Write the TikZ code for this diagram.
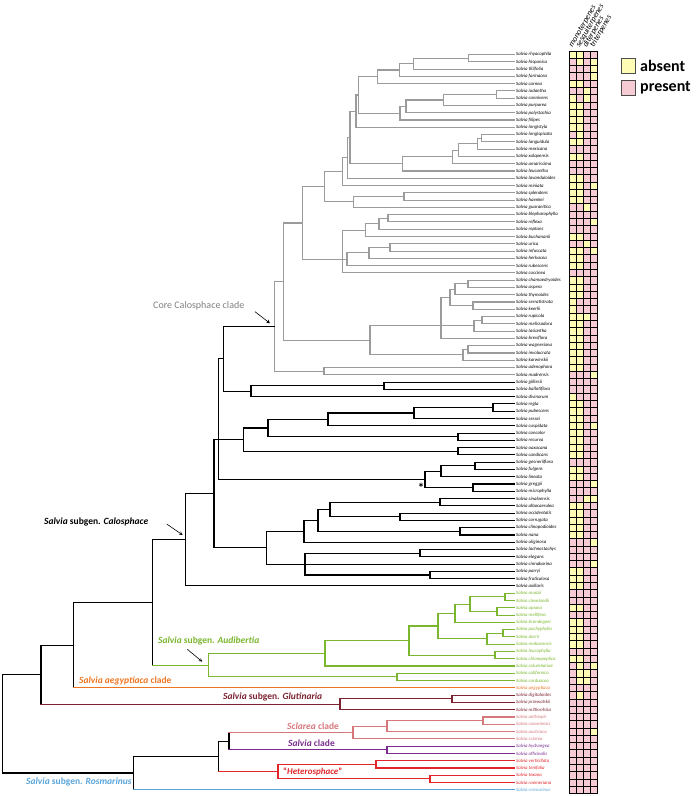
\documentclass[tikz,border=0pt]{standalone}
\usepackage{fontspec}
\setmainfont{Carlito}
\usetikzlibrary{arrows}

\definecolor{cgrey}{HTML}{9B9B9B}
\definecolor{cgreen}{HTML}{7AB62E}
\definecolor{corange}{HTML}{EE7522}
\definecolor{cmaroon}{HTML}{7C2230}
\definecolor{cpink}{HTML}{D6777C}
\definecolor{cpurple}{HTML}{7A2D8F}
\definecolor{cred}{HTML}{E3262A}
\definecolor{cblue}{HTML}{5AA5DA}
\definecolor{state0}{HTML}{FFFCB5}
\definecolor{state1}{HTML}{F6CBD4}

\tikzstyle{branch} = [line width=1.1pt, line cap=rect]
\tikzstyle{taxon} = [anchor=west, inner xsep=1.5pt, inner ysep=0pt, font=\fontsize{4.8}{5}\selectfont\itshape]
\tikzstyle{cell} = [draw=black, line width=0.5pt]
\tikzstyle{cladename} = [anchor=west, inner sep=0pt, font=\fontsize{9.5}{11}\selectfont\bfseries]
\tikzstyle{header} = [anchor=base west, rotate=60, inner sep=0pt, font=\fontsize{8}{9}\selectfont\itshape]
\tikzstyle{legendtext} = [anchor=west, inner sep=0pt, font=\fontsize{16}{18}\selectfont\bfseries]
\tikzstyle{arrow} = [line width=0.6pt,->,>=stealth]

\newcommand{\rowy}[1]{54.5+(#1-1)*7.28}

\begin{document}
\begin{tikzpicture}[x=1pt,y=-1pt]
\useasboundingbox (0,0) rectangle (699,796);

% taxa and terpene matrix (0 = absent, 1 = present)
\foreach \i/\nm/\cl/\ma/\mb/\mc/\md in {
 1/rhyacophila/black/0/0/1/1, 2/hispanica/black/1/0/1/0, 3/tiliifolia/black/1/1/1/0,
 4/farinacea/black/1/1/1/0, 5/carnea/black/0/0/1/1, 6/iodantha/black/1/1/0/1,
 7/connivens/black/0/1/0/1, 8/purpurea/black/0/0/1/1, 9/polystachia/black/0/0/1/1,
 10/filipes/black/0/0/1/1, 11/longistyla/black/0/0/1/1, 12/longispicata/black/1/0/1/1,
 13/languidula/black/0/0/1/1, 14/mexicana/black/1/1/1/1, 15/xalapensis/black/0/0/1/1,
 16/amarissima/black/1/1/1/1, 17/leucantha/black/1/1/1/1, 18/lavanduloides/black/0/0/1/1,
 19/miniata/black/0/0/1/0, 20/splendens/black/0/0/1/1, 21/haenkei/black/0/0/1/1,
 22/guaranitica/black/1/1/0/1, 23/blepharophylla/black/1/1/1/1, 24/reflexa/black/1/1/1/0,
 25/reptans/black/1/1/1/1, 26/buchananii/black/0/0/1/1, 27/urica/black/1/1/0/1,
 28/infuscata/black/0/0/1/0, 29/herbacea/black/0/0/1/1, 30/rubescens/black/0/0/1/1,
 31/coccinea/black/1/1/1/1, 32/chamaedryoides/black/0/0/1/1, 33/aspera/black/0/0/1/1,
 34/thymoides/black/0/0/1/1, 35/serratistrata/black/0/1/1/1, 36/keerlii/black/0/1/1/1,
 37/rupicola/black/0/0/0/1, 38/melissodora/black/0/0/1/1, 39/lasiantha/black/0/0/1/1,
 40/breviflora/black/0/0/1/1, 41/wagneriana/black/0/0/1/1, 42/involucrata/black/0/0/1/1,
 43/karwinskii/black/0/0/1/1, 44/adenophora/black/0/0/1/1, 45/madrensis/black/1/1/1/0,
 46/gilliesii/black/1/1/1/1, 47/ballotiflora/black/1/1/1/1, 48/divinorum/black/0/1/1/1,
 49/regla/black/0/0/1/1, 50/pubescens/black/0/0/1/1, 51/sessei/black/0/0/1/1,
 52/cuspidata/black/0/0/1/0, 53/concolor/black/0/0/1/1, 54/recurva/black/0/0/1/1,
 55/oaxacana/black/0/0/1/1, 56/candicans/black/0/0/1/1, 57/gesneriiflora/black/1/1/1/1,
 58/fulgens/black/0/0/1/1, 59/lineata/black/0/0/1/1, 60/greggii/black/1/1/1/0,
 61/microphylla/black/1/1/1/1, 62/sinaloensis/black/1/1/0/0, 63/albocaerulea/black/0/0/1/1,
 64/occidentalis/black/0/0/1/1, 65/corrugata/black/0/0/1/1, 66/clinopodioides/black/0/0/1/1,
 67/nana/black/0/0/1/1, 68/uliginosa/black/1/1/1/0, 69/lachnostachys/black/1/1/1/1,
 70/elegans/black/1/1/1/1, 71/cinnabarina/black/1/1/1/0, 72/parryi/black/0/0/1/1,
 73/fruticulosa/black/0/0/1/1, 74/axillaris/black/0/0/1/1, 75/munzii/cgreen/1/1/1/1,
 76/clevelandii/cgreen/1/1/1/1, 77/apiana/cgreen/0/0/1/1, 78/mellifera/cgreen/1/1/1/1,
 79/brandegeei/cgreen/0/0/1/1, 80/pachyphylla/cgreen/0/0/1/1, 81/dorrii/cgreen/0/0/1/1,
 82/mohavensis/cgreen/0/0/1/1, 83/leucophylla/cgreen/1/1/1/1, 84/chionopeplica/cgreen/0/0/1/1,
 85/columbariae/cgreen/1/0/1/0, 86/californica/cgreen/1/0/0/1, 87/carduacea/cgreen/1/0/0/1,
 88/aegyptiaca/corange/1/1/1/1, 89/digitaloides/cmaroon/1/0/1/1, 90/przewalskii/cmaroon/1/1/1/1,
 91/miltiorrhiza/cmaroon/1/1/1/1, 92/aethiopis/cpink/1/1/1/1, 93/canariensis/cpink/1/1/1/1,
 94/austriaca/cpink/1/1/1/0, 95/sclarea/cpink/1/1/1/1, 96/hydrangea/cpurple/1/1/1/1,
 97/officinalis/cpurple/1/1/1/1, 98/verticillata/cred/1/1/1/1, 99/tenifolia/cred/1/1/1/1,
 100/texana/cred/1/1/1/1, 101/roemeriana/cred/1/1/1/1, 102/rosmarinus/cblue/1/1/1/1}{
  \node[taxon, text=\cl] (t\i) at (514.5,{\rowy{\i}}) {Salvia \nm};
  \draw[cell, fill=state\ma] (569,{\rowy{\i}-3.64}) rectangle ++(7.1,7.28);
  \draw[cell, fill=state\mb] (576.1,{\rowy{\i}-3.64}) rectangle ++(7.1,7.28);
  \draw[cell, fill=state\mc] (583.2,{\rowy{\i}-3.64}) rectangle ++(7.1,7.28);
  \draw[cell, fill=state\md] (590.3,{\rowy{\i}-3.64}) rectangle ++(7.1,7.28);
}

% column headers
\node[header] (mono) at (572.5,48) {monoterpenes};
\node[header] (sesq) at (579.6,48) {sesquiterpenes};
\node[header] (dite) at (586.7,48) {diterpenes};
\node[header] (trit) at (593.8,48) {triterpenes};

% legend
\draw[cell, draw=black!70, fill=state0] (621,58) rectangle (635,73);
\node[legendtext] (absent) at (640,65.5) {absent};
\draw[cell, draw=black!70, fill=state1] (621,80) rectangle (635,95);
\node[legendtext] (present) at (640,87.5) {present};

% internal nodes (x, row)
\foreach \n/\x/\r in {v1/468.3/1.5, v2/413.3/2.25, v3/399.3/3.125, v4/377.7/4.06,
  v5/496.7/6.5, v6/443.3/7.25, v7/406/8.125, v8/400/9.06, v9/358.3/6.56, v10/356/8.78,
  v11/481.7/12.5, v12/477.7/13.25, v13/458.3/14.125, v14/452.7/15.06, v15/402.3/16.03,
  v16/350/12.4, v17/347.7/15.2, v18/342.3/17.1, v19/404/20.5, v20/353.3/21.25,
  vu/324.3/19.18,
  ga/388/23.5, gb/379/24.25, gc/365.7/25.125, gd/390/27.5, ge/369/28.25, gf/347/29.125,
  gg/342.7/29.125, gh/302.7/24.15, a1/468/32.5, a2/455/33.25, a3/473/35.5, a4/450/34.375,
  a5/482/37.5, a6/474/38.25, a7/441/38.25, a8/468/41.5, a9/463/42.25, a10/370/40.25,
  gi/283.3/32.2, gj/324/44.5, core/274.3/38.35,
  bgb/384/46.5, bgd/251/47.25, b1/223.3/42.8, ca/493/49.5, cb/414/50.25, cc/328/51.125,
  cd/458/53.5, ce/268/52.31, cf/458/55.5, cg/243.3/53.9, sa/475/57.5, sb/441/58.25,
  sc/473/60.5, sd/425/59.375, b2/218.3/53.9, d1/440/62.5, d2/400/64.5, d3/330/63.5,
  d4/460/66.5, d5/318/65, d6/304/66.5, e1/420/69.5, e2/430/72.5, e3/305/71,
  pp/266.7/68.75, nn/214/61.33, calo/185.3/67.66,
  h3/505/75.5, h4/497/77.5, h5/470/76.5, h6/455/77.75, h1/503/80.5, h2/487/81.25,
  h7/438/79.5, h8/495/83.5, h9/409/81.5, h10/325/83.25, h11/397/86.5, aud/208.3/84.875,
  R3/152.3/76.27, R2/73.3/82.13, k1/452/89.5, k2/340/90.25, R1/41/86.19,
  m1/483/92.5, m2/387/93.25, m3/353/94.125, m4/387/96.5, m5/229/95.31,
  rv/376/98.5, r1/430/100.5, r3/278/99.5, j1/218.3/97.4, j2/133.3/99.7, root/2.7/92.95}
  \coordinate (\n) at (\x,{\rowy{\r}});

% Core Calosphace clade
\foreach \p/\q in {v1/t1.west, v1/t2.west, v2/v1, v2/t3.west, v3/v2, v3/t4.west,
  v4/v3, v4/t5.west, v5/t6.west, v5/t7.west, v6/v5, v6/t8.west, v7/v6, v7/t9.west,
  v8/v7, v8/t10.west, v9/v4, v9/v8, v10/v9, v10/t11.west, v11/t12.west, v11/t13.west,
  v12/v11, v12/t14.west, v13/v12, v13/t15.west, v14/v13, v14/t16.west, v15/v14,
  v15/t17.west, v16/v10, v16/v15, v17/v16, v17/t18.west, v18/v17, v18/t19.west,
  v19/t20.west, v19/t21.west, v20/v19, v20/t22.west, vu/v18, vu/v20,
  ga/t23.west, ga/t24.west, gb/ga, gb/t25.west, gc/gb, gc/t26.west, gd/t27.west,
  gd/t28.west, ge/gd, ge/t29.west, gf/ge, gf/t30.west, gg/gc, gg/gf, gg/t31.west,
  gh/vu, gh/gg, a1/t32.west, a1/t33.west, a2/a1, a2/t34.west, a3/t35.west, a3/t36.west,
  a4/a2, a4/a3, a5/t37.west, a5/t38.west, a6/a5, a6/t39.west, a7/a4, a7/a6, a7/t40.west,
  a8/t41.west, a8/t42.west, a9/a8, a9/t43.west, a10/a7, a10/a9, gi/gh, gi/a10,
  gj/t44.west, gj/t45.west, core/gi, core/gj}
  \draw[branch, cgrey] (\p) |- (\q);

% rest of Calosphace and backbone
\foreach \p/\q in {bgb/t46.west, bgb/t47.west, bgd/bgb, bgd/t48.west, b1/core, b1/bgd,
  ca/t49.west, ca/t50.west, cb/ca, cb/t51.west, cc/cb, cc/t52.west, cd/t53.west,
  cd/t54.west, ce/cc, ce/cd, cf/t55.west, cf/t56.west, cg/ce, cg/cf,
  sa/t57.west, sa/t58.west, sb/sa, sb/t59.west, sc/t60.west, sc/t61.west, sd/sb, sd/sc,
  b2/b1, b2/cg, b2/sd, d1/t62.west, d1/t63.west, d2/t64.west, d2/t65.west, d3/d1,
  d3/d2, d4/t66.west, d4/t67.west, d5/d3, d5/d4, d6/d5, d6/t68.west, e1/t69.west,
  e1/t70.west, e2/t72.west, e2/t73.west, e3/e1, e3/t71.west, e3/e2, pp/d6, pp/e3,
  nn/b2, nn/pp, calo/nn, calo/t74.west, R3/calo, R2/R3, R1/R2, root/R1, root/j2,
  j1/m5, j2/j1}
  \draw[branch] (\p) |- (\q);

% Audibertia
\foreach \p/\q in {h3/t75.west, h3/t76.west, h4/t77.west, h4/t78.west, h5/h3, h5/h4,
  h6/h5, h6/t79.west, h1/t80.west, h1/t81.west, h2/h1, h2/t82.west, h7/h6, h7/h2,
  h8/t83.west, h8/t84.west, h9/h7, h9/h8, h10/h9, h10/t85.west, h11/t86.west,
  h11/t87.west, aud/h10, aud/h11}
  \draw[branch, cgreen] (\p) |- (\q);

\foreach \p/\q in {k1/t89.west, k1/t90.west, k2/k1, k2/t91.west}
  \draw[branch, cmaroon] (\p) |- (\q);
\foreach \p/\q in {m1/t92.west, m1/t93.west, m2/m1, m2/t94.west, m3/m2, m3/t95.west}
  \draw[branch, cpink] (\p) |- (\q);
\foreach \p/\q in {m4/t96.west, m4/t97.west}
  \draw[branch, cpurple] (\p) |- (\q);
\foreach \p/\q in {rv/t98.west, rv/t99.west, r1/t100.west, r1/t101.west, r3/rv, r3/r1}
  \draw[branch, cred] (\p) |- (\q);

% coloured stems
\foreach \p/\q/\cl in {R3/aud/cgreen, R2/t88.west/corange, R1/k2/cmaroon, m5/m3/cpink,
  m5/m4/cpurple, j1/r3/cred, j2/t102.west/cblue}{
  \draw[branch] (\p) -- (\p |- \q);
  \draw[branch, \cl] (\p |- \q) -- (\q);
}

% clade names
\node[cladename, font=\fontsize{10}{12}\selectfont, text=black!50] (corelbl) at (153,306) {Core Calosphace clade};
\node[cladename] (calolbl) at (44,522.3) {\textit{Salvia} subgen. \textit{Calosphace}};
\node[cladename, text=cgreen] (audlbl) at (158,641) {\textit{Salvia} subgen. \textit{Audibertia}};
\node[cladename, text=corange] (aeglbl) at (79,680.7) {\textit{Salvia aegyptiaca} clade};
\node[cladename, text=cmaroon] (glutlbl) at (223,697.3) {\textit{Salvia} subgen. \textit{Glutinaria}};
\node[cladename, text=cpink] (sclalbl) at (287,726.5) {\textit{Sclarea} clade};
\node[cladename, text=cpurple] (salvlbl) at (288,743.3) {\textit{Salvia} clade};
\node[cladename, font=\fontsize{9}{10}\selectfont\bfseries, text=cred] (hetlbl) at (283,771.8) {\textquotedblleft\textit{Heterosphace}\textquotedblright};
\node[cladename, text=cblue] (rosmlbl) at (26,782) {\textit{Salvia} subgen. \textit{Rosmarinus}};

\coordinate (corefrom) at (255,311.7);
\coordinate (coreto) at (270,323.3);
\coordinate (calofrom) at (166.7,524);
\coordinate (caloto) at (182.7,535);
\coordinate (audfrom) at (187.3,649.3);
\coordinate (audto) at (202.3,661.7);
\draw[arrow] (corefrom) -- (coreto);
\draw[arrow] (calofrom) -- (caloto);
\draw[arrow] (audfrom) -- (audto);

\node[font=\fontsize{13}{13}\selectfont\bfseries] (star) at (421,488) {*};
\end{tikzpicture}
\end{document}
